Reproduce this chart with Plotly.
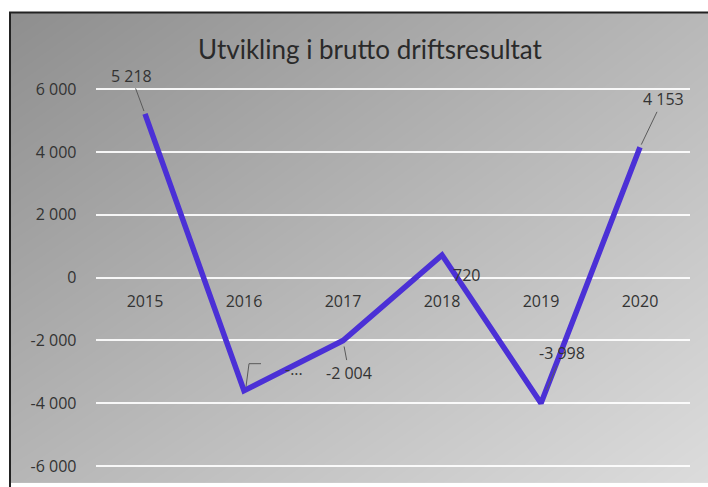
import plotly.graph_objects as go

years = ["2015", "2016", "2017", "2018", "2019", "2020"]
result = [5218, -3600, -2004, 720, -3998, 4153]
value_labels = ["5 218", "-...", "-2 004", "720", "-3 998", "4 153"]
y_ticks = [-6000, -4000, -2000, 0, 2000, 4000, 6000]
y_tick_labels = ["-6 000", "-4 000", "-2 000", "0", "2 000", "4 000", "6 000"]

# label offsets in pixels (dx, dy downwards), arrow flag, arrow standoff
label_pos = [(-14, -38, True, 3), (50, -22, False, 0), (6, 32, True, 6),
             (24, 20, False, 0), (21, -50, True, 14), (23, -48, True, 3)]

W, H = 708, 487
y_range = [-6200, 6400]
y_dom = [(H - 476.2) / H, (H - 77.4) / H]
zero_pos = y_dom[0] + (y_dom[1] - y_dom[0]) * (0 - y_range[0]) / (y_range[1] - y_range[0])

fig = go.Figure()

# gradient background of the chart area
fig.add_trace(go.Heatmap(
    x=[0, 1], y=[0, 1], z=[[182, 220], [142, 184]],
    zmin=0, zmax=255, zsmooth="best", showscale=False, hoverinfo="skip",
    colorscale=[[0, "rgb(0,0,0)"], [1, "rgb(255,255,255)"]],
    xaxis="x", yaxis="y",
))

fig.add_trace(go.Scatter(
    x=years, y=result, mode="lines",
    line=dict(color="#4b30d6", width=5.5),
    xaxis="x2", yaxis="y2", showlegend=False, hoverinfo="skip",
))

font = "Open Sans"
lab_font = dict(family=font, size=16, color="#333333")
# annotations use the category index (strings like "2015" would be read as an index)
for i, (v, txt, (dx, dy, arrow, so)) in enumerate(zip(result, value_labels, label_pos)):
    if arrow:
        fig.add_annotation(x=i, y=v, xref="x2", yref="y2", text=txt, showarrow=True,
                           ax=dx, ay=dy, arrowhead=0, arrowwidth=1, arrowcolor="#5a5a5a",
                           standoff=so, font=lab_font)
    else:
        fig.add_annotation(x=i, y=v, xref="x2", yref="y2", text=txt, showarrow=False,
                           xshift=dx, yshift=-dy, font=lab_font)

# elbow leader next to the 2016 label
fig.add_shape(type="line", xref="x2", yref="y2", xsizemode="pixel", ysizemode="pixel",
              xanchor=1, yanchor=result[1], x0=2, y0=4, x1=5, y1=27,
              line=dict(color="#5a5a5a", width=1))
fig.add_shape(type="line", xref="x2", yref="y2", xsizemode="pixel", ysizemode="pixel",
              xanchor=1, yanchor=result[1], x0=5, y0=27, x1=17, y1=27,
              line=dict(color="#5a5a5a", width=1))

# frame of the chart picture
fig.add_shape(type="rect", xref="paper", yref="paper",
              x0=10 / W, y0=-0.05, x1=1.05, y1=(H - 12.5) / H,
              line=dict(color="#222222", width=2))

fig.update_layout(
    width=W, height=H,
    margin=dict(l=0, r=0, t=0, b=0),
    paper_bgcolor="white", plot_bgcolor="rgba(0,0,0,0)",
    showlegend=False,
    title=dict(text="Utvikling i brutto driftsresultat", x=370 / W, xanchor="center",
               y=1 - 50 / H, yanchor="middle",
               font=dict(family="Lato", size=26, color="#2a2a2a")),
    xaxis=dict(domain=[10 / W, 1], range=[0, 1], visible=False, fixedrange=True),
    yaxis=dict(domain=[0, (H - 12) / H], range=[0, 1], visible=False, fixedrange=True),
    xaxis2=dict(domain=[95.5 / W, 689.5 / W], type="category", categoryarray=years,
                range=[-0.5, len(years) - 0.5], autorange=False,
                anchor="free", position=zero_pos,
                showgrid=False, showline=False, ticks="", ticklabelstandoff=12,
                tickfont=lab_font),
    yaxis2=dict(domain=y_dom, range=y_range, autorange=False, anchor="x2",
                tickvals=y_ticks, ticktext=y_tick_labels,
                showgrid=True, gridcolor="rgba(255,255,255,0.9)", gridwidth=1.5,
                zeroline=False, showline=False, ticks="", ticklabelstandoff=18,
                tickfont=lab_font),
)

fig.write_html("out.html", config={"displayModeBar": False},
               post_script="document.body.style.margin = '0';")
